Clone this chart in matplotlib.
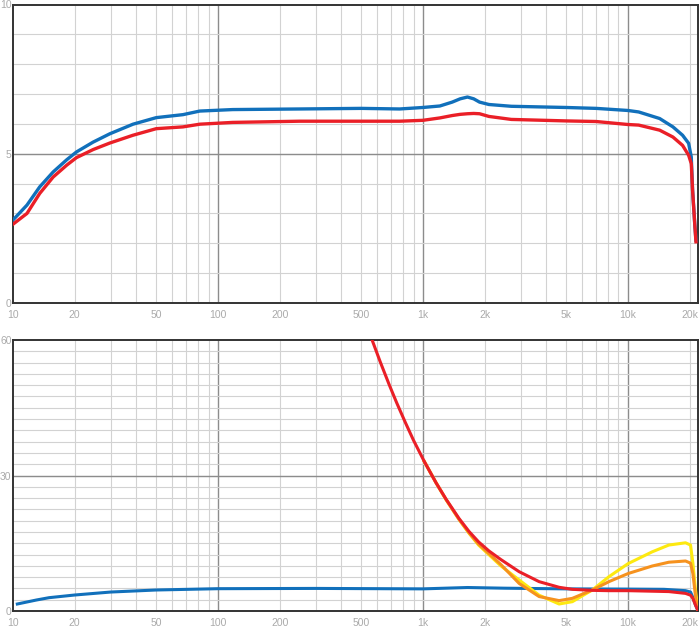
import matplotlib
matplotlib.use("Agg")
import matplotlib.pyplot as plt
import numpy as np

plt.rcParams['font.family'] = ['Liberation Sans', 'DejaVu Sans']

BLUE = '#1170bb'
RED = '#ea1f27'
YELLOW = '#fde910'
ORANGE = '#f6921e'

### --------- DATA --------- ###

# top panel
top_freq = [10, 11.7, 13.5, 15.7, 18.3, 20.4, 24.6, 29.7, 38.5, 50, 67.5, 81.5, 118,
            250, 500, 770, 1000, 1210, 1390, 1520, 1650, 1770, 1890, 2100, 2700, 5000, 7000,
            10000, 11300, 14300, 16600, 18500, 19800, 20400, 20700, 21200, 21500]
top_blue = [2.78, 3.28, 3.89, 4.39, 4.80, 5.06, 5.39, 5.67, 5.99, 6.21, 6.31, 6.43, 6.48,
            6.50, 6.52, 6.50, 6.55, 6.60, 6.73, 6.84, 6.90, 6.84, 6.73, 6.65, 6.59, 6.55, 6.52,
            6.45, 6.40, 6.18, 5.90, 5.62, 5.35, 4.89, 3.78, 2.67, 2.10]
top_red = [2.64, 3.00, 3.67, 4.22, 4.62, 4.87, 5.14, 5.36, 5.62, 5.84, 5.90, 5.99, 6.05,
           6.09, 6.09, 6.09, 6.12, 6.20, 6.28, 6.32, 6.34, 6.35, 6.34, 6.25, 6.15, 6.10, 6.08,
           5.98, 5.96, 5.79, 5.56, 5.28, 4.95, 4.67, 3.78, 2.67, 2.05]

# bottom panel
bot_blue_freq = [10.5, 13, 15, 20, 30, 50, 100, 300, 1000, 1650, 2500, 5000, 10000,
                 15000, 19120, 20230, 20770, 21400, 21930]
bot_blue = [1.55, 2.43, 2.95, 3.54, 4.2, 4.65, 4.94, 5.0, 4.9, 5.2, 5.05, 4.9, 4.85,
            4.8, 4.5, 4.2, 3.0, 1.3, 0.2]

bot_red_freq = [561, 620, 685, 745, 820, 900, 1016, 1159, 1300, 1500, 1680, 1870, 2100,
                2400, 2950, 3690, 4620, 5360, 6710, 8090, 10040, 15850, 19120, 20230,
                20770, 21400, 21930]
bot_red = [60.4, 55.1, 50.1, 46.1, 41.8, 37.8, 33.1, 28.4, 24.7, 20.5, 17.6, 15.3, 13.3,
           11.4, 8.7, 6.5, 5.25, 4.8, 4.57, 4.5, 4.5, 4.3, 3.9, 3.5,
           2.8, 1.3, 0.2]

bot_yo_freq = [1016, 1159, 1300, 1500, 1680, 1870, 2400, 2950, 3690, 4620, 5360, 6710,
               8090, 10040, 13150, 15850, 19120, 20230, 20770, 21400, 21930]
bot_yellow = [33.1, 28.4, 24.6, 20.3, 17.2, 14.6, 10.0, 6.86, 3.5, 1.55, 2.06, 4.65,
              7.6, 10.5, 13.1, 14.6, 15.1, 14.6, 10.6, 4.6, 0.5]
bot_orange = [33.1, 28.4, 24.6, 20.3, 17.3, 14.8, 10.3, 6.1, 3.2, 2.3, 2.8, 4.65,
              6.5, 8.3, 9.96, 10.8, 11.07, 10.6, 8.3, 3.2, 0.2]

xtick_vals = [10, 20, 50, 100, 200, 500, 1000, 2000, 5000, 10000, 20000]
xtick_labels = ['10', '20', '50', '100', '200', '500', '1k', '2k', '5k', '10k', '20k']


def style_axes(ax, ymax, ystep, ymajor):
    ax.set_xscale('log')
    ax.set_xlim(10, 22000)
    ax.set_ylim(0, ymax)
    minor_x = [k * 10 ** d for d in range(1, 5) for k in range(2, 10) if k * 10 ** d < 22000]
    for x in minor_x:
        ax.axvline(x, color='#d2d2d2', lw=0.8, zorder=0)
    for x in [100, 1000, 10000]:
        ax.axvline(x, color='#8c8c8c', lw=1.0, zorder=0)
    for y in np.arange(ystep, ymax, ystep):
        ax.axhline(y, color='#d2d2d2', lw=0.8, zorder=0)
    ax.axhline(ymajor, color='#8c8c8c', lw=1.0, zorder=0)
    ax.set_xticks(xtick_vals)
    ax.set_xticklabels(xtick_labels)
    ax.xaxis.set_minor_locator(matplotlib.ticker.NullLocator())
    ax.set_yticks([0, ymajor, ymax])
    ax.set_yticklabels([str(v) for v in (0, ymajor, ymax)])
    ax.tick_params(axis='both', length=0, labelsize=7.5, labelcolor='#aaaaaa')
    ax.tick_params(axis='x', pad=5)
    ax.tick_params(axis='y', pad=1)
    for s in ax.spines.values():
        s.set_color('#333333')
        s.set_linewidth(1.4)


fig = plt.figure(figsize=(7.0, 6.31), dpi=100)
ax1 = fig.add_axes([13 / 700, (631 - 303) / 631, 685 / 700, 298.5 / 631])
ax2 = fig.add_axes([13 / 700, (631 - 611) / 631, 685 / 700, 271 / 631])

style_axes(ax1, 10, 1, 5)
ax1.plot(top_freq, top_blue, color=BLUE, lw=2.4, zorder=3)
ax1.plot(top_freq, top_red, color=RED, lw=2.4, zorder=4)

style_axes(ax2, 60, 2.5, 30)
ax2.plot(bot_blue_freq, bot_blue, color=BLUE, lw=2.2, zorder=3)
ax2.plot(bot_yo_freq, bot_yellow, color=YELLOW, lw=2.2, zorder=4)
ax2.plot(bot_yo_freq, bot_orange, color=ORANGE, lw=2.2, zorder=5)
ax2.plot(bot_red_freq, bot_red, color=RED, lw=2.2, zorder=6)

fig.savefig('out.png', dpi=100)
